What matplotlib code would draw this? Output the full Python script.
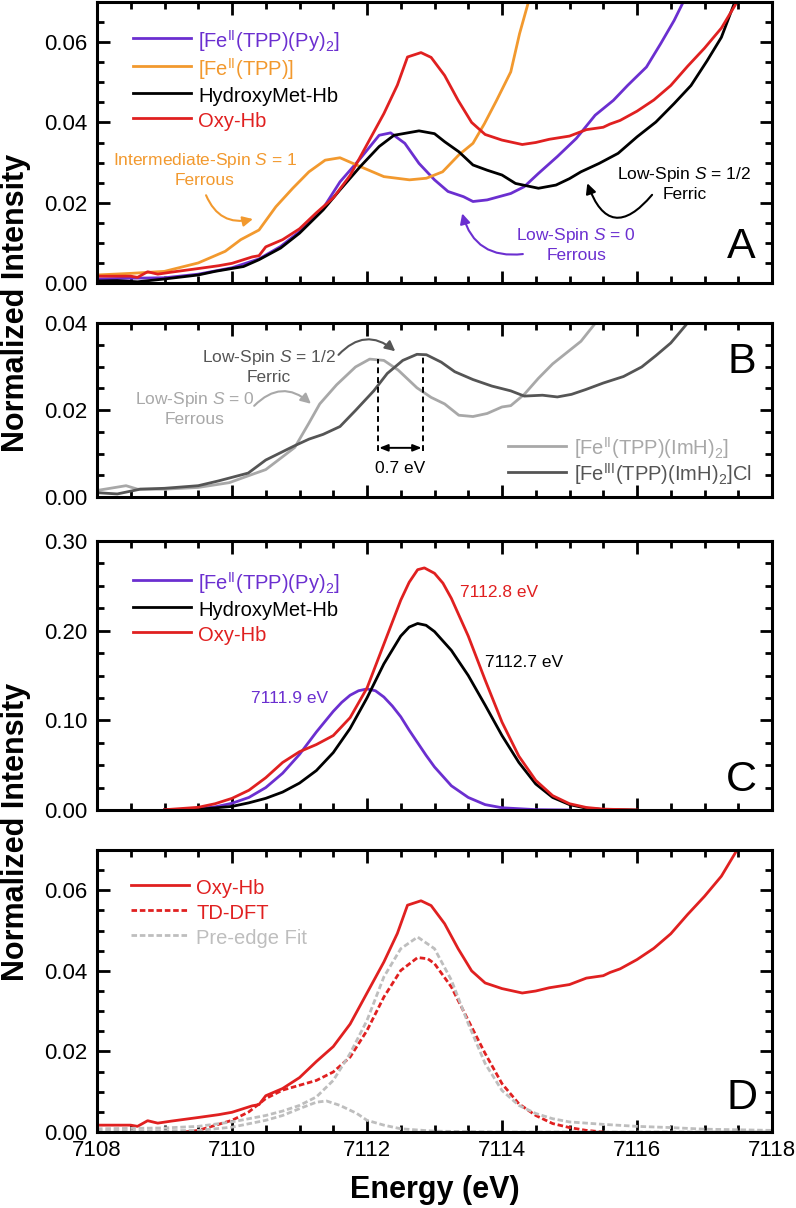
import numpy as np
import matplotlib
matplotlib.use("Agg")
import matplotlib.pyplot as plt
from matplotlib.patches import FancyArrowPatch

plt.rcParams['font.family'] = ['Liberation Sans', 'DejaVu Sans']
plt.rcParams['mathtext.fontset'] = 'custom'
plt.rcParams['mathtext.rm'] = 'Liberation Sans'
plt.rcParams['mathtext.it'] = 'Liberation Sans:italic'
plt.rcParams['mathtext.bf'] = 'Liberation Sans:bold'

# ---------------- colours ----------------
PURPLE = '#6B2FD0'
ORANGE = '#F2992E'
BLACK = '#000000'
RED = '#E02020'
LGRAY = '#A8A8A8'
DGRAY = '#555555'
FITGRAY = '#BEBEBE'

# ---------------- Panel A / D data ----------------
oxy_e = [7108.0, 7108.5, 7108.6, 7108.75, 7108.9, 7109.1, 7109.5, 7109.8, 7110.0, 7110.3, 7110.4,
         7110.5, 7110.75, 7111.0, 7111.25, 7111.5, 7111.75, 7112.0, 7112.25, 7112.45, 7112.6,
         7112.8, 7112.95, 7113.15, 7113.35, 7113.55, 7113.75, 7114.0, 7114.3, 7114.5, 7114.7,
         7115.0, 7115.25, 7115.5, 7115.6, 7115.75, 7116.0, 7116.25, 7116.5, 7116.75, 7117.0,
         7117.25, 7117.5]
oxy_v = [0.0017, 0.0017, 0.0014, 0.0028, 0.0022, 0.0027, 0.0036, 0.0043, 0.0049, 0.0065, 0.0068,
         0.0090, 0.0108, 0.0135, 0.0175, 0.0212, 0.0268, 0.0345, 0.0422, 0.0493, 0.0563,
         0.0574, 0.0562, 0.0517, 0.0455, 0.0400, 0.0370, 0.0356, 0.0345, 0.0350, 0.0358,
         0.0366, 0.0382, 0.0388, 0.0396, 0.0405, 0.0428, 0.0456, 0.0492, 0.0540, 0.0585,
         0.0635, 0.0705]

met_e = [7108.0, 7108.3, 7108.6, 7109.0, 7109.5, 7109.75, 7110.17, 7110.4, 7110.72, 7111.0,
         7111.35, 7111.6, 7111.9, 7112.18, 7112.4, 7112.77, 7113.0, 7113.15, 7113.36, 7113.57,
         7113.78, 7114.0, 7114.2, 7114.54, 7114.8, 7115.0, 7115.17, 7115.44, 7115.72, 7116.0,
         7116.28, 7116.55, 7116.8, 7117.04, 7117.25, 7117.46]
met_v = [0.0005, 0.0006, 0.0003, 0.0010, 0.0020, 0.0029, 0.0041, 0.0058, 0.0087, 0.0124,
         0.0182, 0.0232, 0.0290, 0.0340, 0.0368, 0.0379, 0.0372, 0.0352, 0.0327, 0.0294,
         0.0281, 0.0269, 0.0248, 0.0236, 0.0244, 0.0260, 0.0277, 0.0298, 0.0323, 0.0364,
         0.0401, 0.0447, 0.0492, 0.0554, 0.0612, 0.0705]

py_e = [7108.0, 7108.5, 7109.0, 7109.5, 7110.0, 7110.4, 7110.72, 7111.0, 7111.35, 7111.6,
        7111.9, 7112.18, 7112.35, 7112.56, 7112.77, 7113.0, 7113.2, 7113.43, 7113.57, 7113.78,
        7114.13, 7114.33, 7114.54, 7114.82, 7115.1, 7115.38, 7115.65, 7115.86, 7116.14, 7116.35,
        7116.55, 7116.7]
py_v = [0.0010, 0.0012, 0.0013, 0.0022, 0.0038, 0.0060, 0.0091, 0.0128, 0.0186, 0.0252,
        0.0310, 0.0368, 0.0374, 0.0348, 0.0298, 0.0257, 0.0228, 0.0215, 0.0203, 0.0207,
        0.0223, 0.0240, 0.0273, 0.0315, 0.0360, 0.0418, 0.0455, 0.0492, 0.0538, 0.0596,
        0.0654, 0.0705]

tpp_e = [7108.0, 7108.5, 7109.0, 7109.5, 7109.9, 7110.13, 7110.4, 7110.65, 7110.9, 7111.14,
         7111.38, 7111.6, 7111.9, 7112.25, 7112.63, 7112.88, 7113.12, 7113.36, 7113.57, 7113.74,
         7113.92, 7114.13, 7114.26, 7114.4]
tpp_v = [0.0020, 0.0024, 0.0029, 0.0050, 0.0079, 0.0108, 0.0132, 0.0190, 0.0236, 0.0277,
         0.0306, 0.0312, 0.0290, 0.0265, 0.0257, 0.0261, 0.0277, 0.0319, 0.0348, 0.0397,
         0.0455, 0.0526, 0.0621, 0.0705]

# ---------------- Panel B data ----------------
imh2_e = [7108.0, 7108.43, 7108.6, 7109.0, 7109.5, 7109.96, 7110.3, 7110.5, 7110.72, 7110.93,
          7111.14, 7111.3, 7111.55, 7111.83, 7112.04, 7112.25, 7112.46, 7112.74, 7112.95, 7113.15,
          7113.36, 7113.57, 7113.78, 7114.0, 7114.13, 7114.33, 7114.54, 7114.75, 7114.96, 7115.17,
          7115.38, 7115.45]
imh2_v = [0.0015, 0.0026, 0.0018, 0.0018, 0.0022, 0.0033, 0.0052, 0.0063, 0.0089, 0.0114,
          0.0170, 0.0214, 0.0258, 0.0299, 0.0317, 0.0314, 0.0292, 0.0251, 0.0229, 0.0214,
          0.0188, 0.0185, 0.0192, 0.0207, 0.0210, 0.0236, 0.0273, 0.0306, 0.0332, 0.0358,
          0.0399, 0.0405]

imh3_e = [7108.0, 7108.3, 7108.64, 7109.0, 7109.5, 7109.8, 7110.24, 7110.5, 7110.93, 7111.14,
          7111.35, 7111.6, 7111.83, 7112.1, 7112.3, 7112.53, 7112.74, 7112.88, 7113.1, 7113.3,
          7113.57, 7113.85, 7114.13, 7114.33, 7114.6, 7114.82, 7115.03, 7115.24, 7115.5, 7115.8,
          7116.07, 7116.28, 7116.5, 7116.62, 7116.76]
imh3_v = [0.0010, 0.0007, 0.0018, 0.0020, 0.0026, 0.0037, 0.0055, 0.0085, 0.0118, 0.0133,
          0.0144, 0.0162, 0.0199, 0.0244, 0.0284, 0.0314, 0.0328, 0.0327, 0.0310, 0.0288,
          0.0270, 0.0255, 0.0244, 0.0232, 0.0234, 0.0230, 0.0236, 0.0247, 0.0262, 0.0277,
          0.0299, 0.0325, 0.0354, 0.0376, 0.0402]

# ---------------- Panel C data ----------------
cpy_e = [7109.0, 7109.5, 7109.75, 7110.0, 7110.25, 7110.5, 7110.75, 7111.0, 7111.25, 7111.5,
         7111.625, 7111.75, 7111.875, 7112.0, 7112.125, 7112.25, 7112.375, 7112.5, 7112.625,
         7112.75, 7112.875, 7113.0, 7113.25, 7113.5, 7113.75, 7114.0, 7114.5, 7115.0]
cpy_v = [0.0, 0.0015, 0.0035, 0.0075, 0.014, 0.025, 0.041, 0.062, 0.087, 0.110,
         0.120, 0.128, 0.133, 0.135, 0.133, 0.126, 0.116, 0.104, 0.089,
         0.075, 0.061, 0.048, 0.027, 0.014, 0.006, 0.0025, 0.0004, 0.0]

coxy_e = [7109.0, 7109.5, 7109.75, 7110.0, 7110.25, 7110.5, 7110.75, 7111.0, 7111.25, 7111.5,
          7111.75, 7112.0, 7112.25, 7112.5, 7112.625, 7112.75, 7112.85, 7113.0, 7113.125,
          7113.25, 7113.5, 7113.75, 7114.0, 7114.25, 7114.5, 7114.75, 7115.0, 7115.25, 7115.5,
          7116.0]
coxy_v = [0.0003, 0.003, 0.007, 0.013, 0.022, 0.036, 0.053, 0.065, 0.073, 0.083,
          0.103, 0.136, 0.185, 0.234, 0.254, 0.268, 0.270, 0.264, 0.253,
          0.236, 0.194, 0.145, 0.098, 0.060, 0.033, 0.016, 0.007, 0.0028, 0.001,
          0.0]

cmet_e = [7109.0, 7109.5, 7110.0, 7110.25, 7110.5, 7110.75, 7111.0, 7111.25, 7111.5, 7111.75,
          7112.0, 7112.25, 7112.5, 7112.625, 7112.75, 7112.875, 7113.0, 7113.25, 7113.5, 7113.75,
          7114.0, 7114.25, 7114.5, 7114.75, 7115.0, 7115.25, 7115.5, 7116.0]
cmet_v = [0.0, 0.0007, 0.004, 0.008, 0.013, 0.020, 0.030, 0.044, 0.064, 0.091,
          0.125, 0.163, 0.194, 0.204, 0.208, 0.206, 0.199, 0.178, 0.150, 0.117,
          0.083, 0.053, 0.029, 0.014, 0.006, 0.002, 0.0005, 0.0]

# ---------------- Panel D data ----------------
tddft_e = [7109.3, 7109.5, 7110.0, 7110.25, 7110.5, 7110.75, 7111.0, 7111.25, 7111.5, 7111.75,
           7112.0, 7112.25, 7112.5, 7112.75, 7112.9, 7113.0, 7113.25, 7113.5, 7113.75, 7114.0,
           7114.25, 7114.5, 7114.75, 7115.0, 7115.25, 7115.5]
tddft_v = [0.0, 0.0004, 0.0029, 0.0050, 0.0083, 0.0104, 0.0116, 0.0128, 0.0149, 0.0186,
           0.0252, 0.0335, 0.0401, 0.0433, 0.0430, 0.0418, 0.0360, 0.0277, 0.0195, 0.0120,
           0.0070, 0.0041, 0.0021, 0.0011, 0.0004, 0.0]

fit_e = [7108.0, 7109.0, 7109.5, 7110.0, 7110.5, 7110.75, 7111.0, 7111.25, 7111.5, 7111.75,
         7112.0, 7112.25, 7112.5, 7112.75, 7113.0, 7113.25, 7113.5, 7113.75, 7114.0, 7114.25,
         7114.5, 7114.75, 7115.0, 7115.5, 7116.0, 7116.5, 7117.0, 7118.0]
fit_v = [0.0008, 0.0010, 0.0014, 0.0025, 0.0041, 0.0052, 0.0066, 0.0087, 0.0128, 0.0195,
         0.0277, 0.0385, 0.0455, 0.0484, 0.0455, 0.0377, 0.0269, 0.0170, 0.0103, 0.0066,
         0.0046, 0.0033, 0.0025, 0.0019, 0.0014, 0.0011, 0.0007, 0.0004]

fit2_e = [7108.0, 7109.0, 7109.5, 7110.0, 7110.5, 7110.75, 7111.0, 7111.25, 7111.4, 7111.6,
          7111.85, 7112.0, 7112.25, 7112.5, 7113.0, 7114.0, 7118.0]
fit2_v = [0.0002, 0.0003, 0.0004, 0.0012, 0.0029, 0.0041, 0.0058, 0.0074, 0.0077, 0.0066,
          0.0046, 0.0029, 0.0017, 0.0008, 0.0002, 0.0, 0.0]

# ---------------- figure ----------------
W, H = 796, 1208
fig = plt.figure(figsize=(W / 100, H / 100), dpi=100)

def rect(top_px, bot_px, left_px=97, right_px=772):
    return [left_px / W, 1 - bot_px / H, (right_px - left_px) / W, (bot_px - top_px) / H]

axA = fig.add_axes(rect(2, 283))
axB = fig.add_axes(rect(323, 497))
axC = fig.add_axes(rect(541, 810))
axD = fig.add_axes(rect(850, 1132))

LW = 2.0
TICKFS = 16

def style(ax, ymax, major, minor, fmt, show_x=False):
    ax.set_xlim(7108, 7118)
    ax.set_ylim(0, ymax)
    ax.set_xticks(np.arange(7108, 7118.01, 2))
    ax.set_xticks(np.arange(7108, 7118.01, 0.5), minor=True)
    ax.set_yticks(np.arange(0, ymax + 1e-9, major))
    ax.set_yticks(np.arange(0, ymax + 1e-9, minor), minor=True)
    ax.yaxis.set_major_formatter(matplotlib.ticker.FormatStrFormatter(fmt))
    ax.tick_params(which='both', direction='in', top=True, right=True, width=2.0)
    ax.tick_params(which='major', length=9, labelsize=TICKFS, pad=7)
    ax.tick_params(which='minor', length=5)
    if not show_x:
        ax.tick_params(axis='x', labelbottom=False)
    for s in ax.spines.values():
        s.set_linewidth(2.2)

style(axA, 0.07, 0.02, 0.005, '%.2f')
style(axB, 0.04, 0.02, 0.005, '%.2f')
style(axC, 0.30, 0.10, 0.025, '%.2f')
style(axD, 0.07, 0.02, 0.005, '%.2f', show_x=True)
axD.tick_params(axis='x', pad=6)

LEGKW = dict(frameon=False, fontsize=14.5, handlelength=2.9, handletextpad=0.35,
             handleheight=1.38, labelspacing=0.1, borderaxespad=0, borderpad=0)

# ---- Panel A ----
axA.plot(py_e, py_v, color=PURPLE, lw=LW, label=r'[Fe$^{\rm II}$(TPP)(Py)$_2$]')
axA.plot(tpp_e, tpp_v, color=ORANGE, lw=LW, label=r'[Fe$^{\rm II}$(TPP)]')
axA.plot(met_e, met_v, color=BLACK, lw=LW, label='HydroxyMet-Hb')
axA.plot(oxy_e, oxy_v, color=RED, lw=LW, label='Oxy-Hb')
legA = axA.legend(loc='upper left', bbox_to_anchor=(0.053, 0.908), **LEGKW)
for t, c in zip(legA.get_texts(), [PURPLE, ORANGE, BLACK, RED]):
    t.set_color(c)

ANN = 12.5
axA.text(7109.6, 0.0282, 'Intermediate-Spin $S$ = 1\nFerrous', color=ORANGE, fontsize=ANN,
         ha='center', va='center', linespacing=1.25)
axA.add_patch(FancyArrowPatch((7109.6, 0.0225), (7110.35, 0.0161), connectionstyle='arc3,rad=0.45',
                              arrowstyle='-|>,head_length=6,head_width=3', color=ORANGE, lw=1.5))
axA.text(7115.1, 0.0097, 'Low-Spin $S$ = 0\nFerrous', color=PURPLE, fontsize=ANN,
         ha='center', va='center', linespacing=1.25)
axA.add_patch(FancyArrowPatch((7114.35, 0.0073), (7113.4, 0.0180), connectionstyle='arc3,rad=-0.45',
                              arrowstyle='-|>,head_length=6,head_width=3', color=PURPLE, lw=1.5))
axA.text(7116.7, 0.0249, 'Low-Spin $S$ = 1/2\nFerric', color=BLACK, fontsize=ANN,
         ha='center', va='center', linespacing=1.25)
axA.add_patch(FancyArrowPatch((7116.25, 0.0225), (7115.25, 0.0255), connectionstyle='arc3,rad=-0.9',
                              arrowstyle='-|>,head_length=6,head_width=3', color=BLACK, lw=1.5))
axA.text(7117.55, 0.009, 'A', fontsize=31, ha='center', va='center')

# ---- Panel B ----
axB.plot(imh2_e, imh2_v, color=LGRAY, lw=LW, label=r'[Fe$^{\rm II}$(TPP)(ImH)$_2$]')
axB.plot(imh3_e, imh3_v, color=DGRAY, lw=LW, label=r'[Fe$^{\rm III}$(TPP)(ImH)$_2$]Cl')
legB = axB.legend(loc='upper left', bbox_to_anchor=(0.609, 0.355),
                  **dict(LEGKW, handleheight=1.25, labelspacing=0.0))
for t, c in zip(legB.get_texts(), [LGRAY, DGRAY]):
    t.set_color(c)
pk2 = 7112.16
pk3 = 7112.83
axB.plot([pk2, pk2], [0.0105, 0.0317], color=BLACK, lw=1.4, ls=(0, (3, 2)))
axB.plot([pk3, pk3], [0.0105, 0.0328], color=BLACK, lw=1.4, ls=(0, (3, 2)))
axB.annotate('', xy=(pk2 + 0.02, 0.0113), xytext=(pk3 - 0.02, 0.0113),
             arrowprops=dict(arrowstyle='<|-|>,head_length=0.5,head_width=0.2', color=BLACK, lw=1.4,
                             shrinkA=0, shrinkB=0))
axB.text((pk2 + pk3) / 2, 0.0066, '0.7 eV', fontsize=ANN, ha='center', va='center')
axB.text(7110.55, 0.0301, 'Low-Spin $S$ = 1/2\nFerric', color=DGRAY, fontsize=ANN,
         ha='center', va='center', linespacing=1.25)
axB.add_patch(FancyArrowPatch((7111.55, 0.0322), (7112.45, 0.0331), connectionstyle='arc3,rad=-0.5',
                              arrowstyle='-|>,head_length=6,head_width=3', color=DGRAY, lw=1.5))
axB.text(7109.45, 0.0203, 'Low-Spin $S$ = 0\nFerrous', color=LGRAY, fontsize=ANN,
         ha='center', va='center', linespacing=1.25)
axB.add_patch(FancyArrowPatch((7110.3, 0.0205), (7111.2, 0.0210), connectionstyle='arc3,rad=-0.5',
                              arrowstyle='-|>,head_length=6,head_width=3', color=LGRAY, lw=1.5))
axB.text(7117.55, 0.031, 'B', fontsize=31, ha='center', va='center')

# ---- Panel C ----
axC.plot(cpy_e, cpy_v, color=PURPLE, lw=LW, label=r'[Fe$^{\rm II}$(TPP)(Py)$_2$]')
axC.plot(cmet_e, cmet_v, color=BLACK, lw=LW, label='HydroxyMet-Hb')
axC.plot(coxy_e, coxy_v, color=RED, lw=LW, label='Oxy-Hb')
legC = axC.legend(loc='upper left', bbox_to_anchor=(0.053, 0.893), **LEGKW)
for t, c in zip(legC.get_texts(), [PURPLE, BLACK, RED]):
    t.set_color(c)
axC.text(7113.38, 0.2425, '7112.8 eV', color=RED, fontsize=ANN, ha='left', va='center')
axC.text(7113.75, 0.165, '7112.7 eV', color=BLACK, fontsize=ANN, ha='left', va='center')
axC.text(7110.28, 0.1245, '7111.9 eV', color=PURPLE, fontsize=ANN, ha='left', va='center')
axC.text(7117.55, 0.034, 'C', fontsize=31, ha='center', va='center')

# ---- Panel D ----
axD.plot(oxy_e, oxy_v, color=RED, lw=LW, label='Oxy-Hb')
axD.plot(tddft_e, tddft_v, color=RED, lw=LW, ls=(0, (2, 1)), label='TD-DFT')
axD.plot(fit_e, fit_v, color=FITGRAY, lw=LW, ls=(0, (2, 1)), label='Pre-edge Fit')
axD.plot(fit2_e, fit2_v, color=FITGRAY, lw=LW, ls=(0, (2, 1)))
legD = axD.legend(loc='upper left', bbox_to_anchor=(0.05, 0.908), **LEGKW)
for t, c in zip(legD.get_texts(), [RED, RED, FITGRAY]):
    t.set_color(c)
axD.text(7117.55, 0.0085, 'D', fontsize=31, ha='center', va='center')
axD.set_xlabel('Energy (eV)', fontsize=22, fontweight='bold', labelpad=10)

# y labels
fig.text(16 / W, 1 - 303 / H, 'Normalized Intensity', rotation=90, fontsize=22,
         fontweight='bold', ha='center', va='center')
fig.text(16 / W, 1 - 832 / H, 'Normalized Intensity', rotation=90, fontsize=22,
         fontweight='bold', ha='center', va='center')

fig.savefig('out.png', dpi=100)
